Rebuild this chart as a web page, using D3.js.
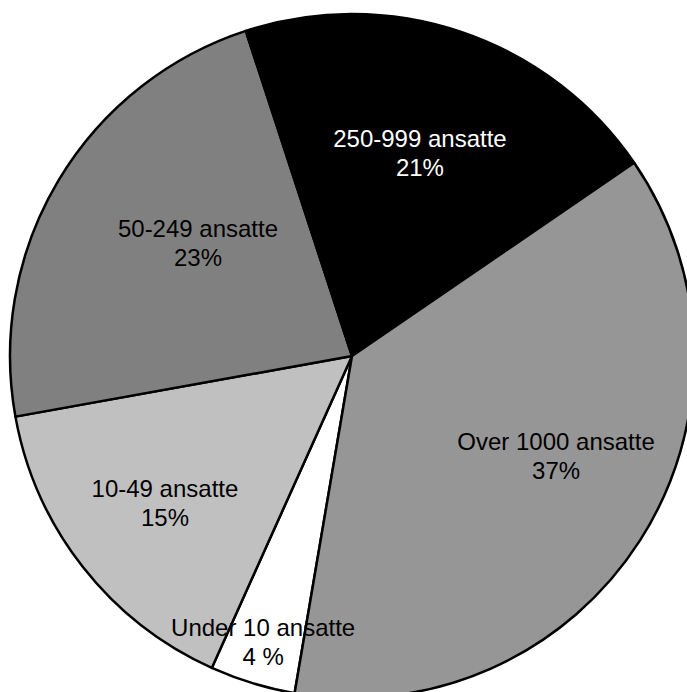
<!DOCTYPE html>
<html>
<head>
<meta charset="utf-8">
<script src="https://cdn.jsdelivr.net/npm/d3@7"></script>
<style>
  html, body { margin: 0; padding: 0; background: #ffffff; }
  svg { display: block; }
</style>
</head>
<body>
<div id="container"></div>
<script>
/* DATA |, clockwise from "Under 10" */
const categories = ["Under 10 ansatte", "10-49 ansatte", "50-249 ansatte", "250-999 ansatte", "Over 1000 ansatte"];
const shares = [4.04, 15.44, 22.81, 20.47, 37.24];
const pctLabels = ["4 %", "15%", "23%", "21%", "37%"];

/* LOOK */
const fills = ["#ffffff", "#c0c0c0", "#808080", "#000000", "#969696"];
const textFills = ["#000000", "#000000", "#000000", "#ffffff", "#000000"];
const labelDist = [0.877, 0.696, 0.558, 0.626, 0.664]; /* fraction of radius, like Excel's best fit */
const labelTurn = [0.3, -0.2, 5.35, -0.25, -6.6];    /* degrees off the slice's mid angle */

/* CONSTANTS */
const width = 687,
  height = 692,
  cx = 352,
  cy = 356,
  radius = 342,
  firstAngle = 189.66 * Math.PI / 180;

const rows = categories.map((c, i) => ({ cat: c, value: shares[i], pct: pctLabels[i], i: i }));

const svg = d3.select("#container")
  .append("svg")
  .attr("width", width)
  .attr("height", height);

const g = svg.append("g")
  .attr("transform", `translate(${cx}, ${cy})`);

const pie = d3.pie()
  .sort(null)
  .value(d => d.value)
  .startAngle(firstAngle)
  .endAngle(firstAngle + 2 * Math.PI);

const arcGen = d3.arc()
  .innerRadius(0)
  .outerRadius(radius);

const arcs = pie(rows);

/* SLICES */
g.selectAll(".slice")
  .data(arcs)
  .join("path")
  .attr("class", "slice")
  .attr("d", arcGen)
  .attr("fill", d => fills[d.data.i])
  .attr("stroke", "#000000")
  .attr("stroke-width", 2.5)
  .attr("stroke-linejoin", "round");

/* LABELS | two lines, centred on a point near the mid angle */
const labels = g.selectAll(".label")
  .data(arcs)
  .join("text")
  .attr("class", "label")
  .attr("text-anchor", "middle")
  .style("font-family", "'Liberation Sans', Arial, sans-serif")
  .style("font-size", "24px")
  .attr("fill", d => textFills[d.data.i])
  .attr("transform", d => {
    const mid = (d.startAngle + d.endAngle) / 2 + labelTurn[d.data.i] * Math.PI / 180;
    const r = radius * labelDist[d.data.i];
    return `translate(${r * Math.sin(mid)}, ${-r * Math.cos(mid)})`;
  });

labels.append("tspan")
  .attr("x", 0)
  .attr("y", -6)
  .text(d => d.data.cat);

labels.append("tspan")
  .attr("x", 0)
  .attr("y", 23)
  .text(d => d.data.pct);
</script>
</body>
</html>
